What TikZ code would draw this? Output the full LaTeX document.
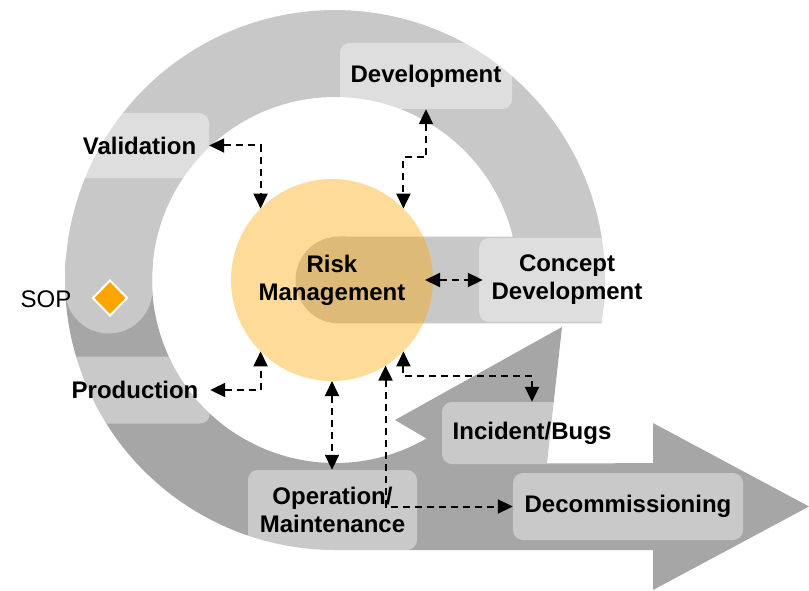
\documentclass[tikz,border=0pt]{standalone}
\usepackage{fontspec}
\setmainfont{Liberation Sans}
\usetikzlibrary{arrows.meta,shapes.geometric}
\definecolor{bandlight}{HTML}{C8C8C8}
\definecolor{banddark}{HTML}{A6A6A6}
\definecolor{riskorange}{HTML}{FFA500}

\begin{document}
\begin{tikzpicture}[x=1pt,y=1pt,>={Triangle[length=15pt,width=14pt]},
	phase/.style={fill=white,fill opacity=0.4,text opacity=1,rounded corners=10pt,inner sep=0pt,align=center,font=\fontsize{24}{28}\selectfont\bfseries},
	link/.style={<->,line width=2pt,dash pattern=on 7pt off 5pt}]
	\useasboundingbox (0,0) rectangle (809,590);
	% lower band, ends in the big arrow
	\fill[banddark] (66.03,333.53) arc[start angle=175,end angle=270,radius=270] -- (653,40) -- (653,0) -- (809,83.5) -- (653,167) -- (653,127) -- (547,127) -- (562,263) -- (395,170) -- (426.5,151.5) arc[start angle=-60,end angle=-185,radius=183] -- cycle;
	% upper band out of the centre
	\fill[bandlight] (339,266.5) -- (601.5,266.5) arc[start angle=-9.27,end angle=182.53,radius=270] arc[start angle=182.53,end angle=362.53,radius=43.5] arc[start angle=182.53,end angle=13.75,radius=183] -- (339,353.5) arc[start angle=90,end angle=270,radius=43.5] -- cycle;
	\node[circle,fill=riskorange,fill opacity=0.4,text opacity=1,minimum size=202pt,inner sep=0pt,outer sep=0pt,align=center,font=\fontsize{24}{28}\selectfont\bfseries] (risk) at (332,310) {Risk\\Management};
	\node[phase,minimum width=172pt,minimum height=66pt] (dev) at (426,514) {Development};
	\node[phase,minimum width=139pt,minimum height=65pt] (val) at (139.5,444.5) {Validation};
	\node[phase,minimum width=176pt,minimum height=84pt] (cd) at (567,310) {Concept\\Development};
	\node[phase,minimum width=150pt,minimum height=67pt] (prod) at (135,200) {Production};
	\node[phase,minimum width=169pt,minimum height=80pt] (op) at (332.5,80) {Operation/\\Maintenance};
	\node[phase,minimum width=180pt,minimum height=62pt] (inc) at (532,157) {Incident/Bugs};
	\node[phase,minimum width=230pt,minimum height=67pt] (dec) at (628,83.5) {Decommissioning};
	\node[font=\fontsize{24}{28}\selectfont] (sop) at (46,291) {SOP};
	\node[diamond,fill=riskorange,draw=white,line width=2pt,minimum width=35pt,minimum height=36pt,inner sep=0pt] (sopmark) at (110,292) {};
	\draw[link] (val.east) -| (risk.135);
	\draw[link] (dev.south) -- ++(0,-48) -| (risk.45);
	\draw[link,shorten <=-8pt,shorten >=-4pt] (risk.east) -- (cd.west);
	\draw[link] (prod.east) -| (risk.225);
	\draw[link] (risk.south) -- (risk.south |- op.north);
	\draw[link] (risk.-45) -- ++(0,-25) -| (inc.north);
	\draw[link] (risk.-58) |- (dec.west);
\end{tikzpicture}
\end{document}
